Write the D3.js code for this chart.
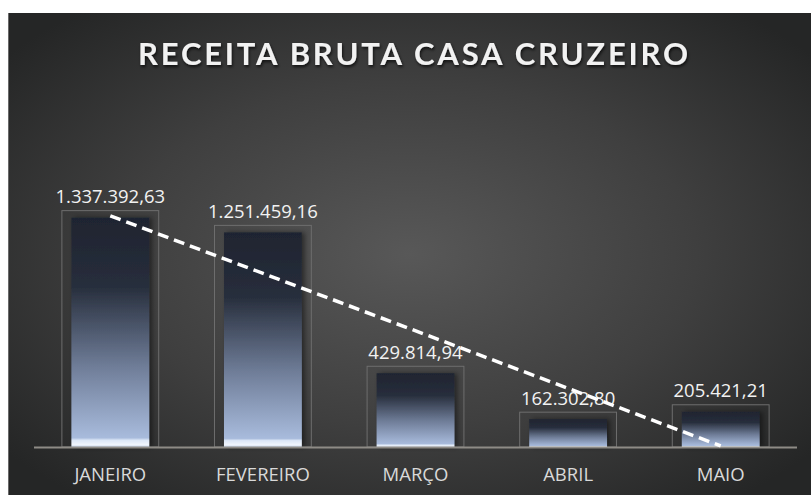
<!DOCTYPE html>
<html>
<head>
<meta charset="utf-8">
<script src="https://cdn.jsdelivr.net/npm/d3@7"></script>
<style>
  html, body { margin: 0; padding: 0; background: #ffffff; }
  svg { display: block; }
</style>
</head>
<body>
<svg id="chart" width="811" height="495"></svg>
<script>
const categories = ["JANEIRO", "FEVEREIRO", "MARÇO", "ABRIL", "MAIO"];
const values = [1337392.63, 1251459.16, 429814.94, 162302.80, 205421.21];
const valueLabels = ["1.337.392,63", "1.251.459,16", "429.814,94", "162.302,80", "205.421,21"];
const titleText = "RECEITA BRUTA CASA CRUZEIRO";

const svg = d3.select("#chart");
const W = 811, H = 495;
const defs = svg.append("defs");

// background radial gradient
const bg = defs.append("radialGradient").attr("id", "bg")
  .attr("cx", "50%").attr("cy", "50%").attr("r", "65%");
bg.append("stop").attr("offset", "0%").attr("stop-color", "#585858");
bg.append("stop").attr("offset", "55%").attr("stop-color", "#3f3f3f");
bg.append("stop").attr("offset", "100%").attr("stop-color", "#252626");

// bar gradient
const bg2 = defs.append("linearGradient").attr("id", "barGrad")
  .attr("x1", "0").attr("y1", "0").attr("x2", "0").attr("y2", "1");
[["0%", "#1f2430"], ["30%", "#272e3c"], ["65%", "#6f7d98"], ["96%", "#a8bbdc"],
 ["97%", "#dbe6f6"], ["99%", "#f0f5fc"], ["100%", "#c8d6ee"]].forEach(([o, c]) =>
  bg2.append("stop").attr("offset", o).attr("stop-color", c));

const sh = defs.append("filter").attr("id", "barShadow")
  .attr("x", "-20%").attr("y", "-20%").attr("width", "140%").attr("height", "140%");
sh.append("feDropShadow").attr("dx", 3).attr("dy", 0).attr("stdDeviation", 2.5)
  .attr("flood-color", "#000").attr("flood-opacity", 0.45);

const tsh = defs.append("filter").attr("id", "titleShadow")
  .attr("x", "-10%").attr("y", "-30%").attr("width", "120%").attr("height", "160%");
tsh.append("feDropShadow").attr("dx", 1).attr("dy", 2).attr("stdDeviation", 1.5)
  .attr("flood-color", "#000").attr("flood-opacity", 0.7);

// chart area background
svg.append("rect").attr("x", 8).attr("y", 13).attr("width", W - 8).attr("height", H - 13)
  .attr("fill", "url(#bg)");
svg.append("line").attr("x1", 8.5).attr("x2", 8.5).attr("y1", 13).attr("y2", H)
  .attr("stroke", "#6a6a6a").attr("stroke-width", 1);

// title
svg.append("text")
  .attr("x", 413).attr("y", 65)
  .attr("text-anchor", "middle")
  .attr("font-family", "Lato, 'Open Sans', sans-serif")
  .attr("font-weight", 700)
  .attr("font-size", 31)
  .attr("fill", "#f2f2f2")
  .attr("textLength", 550)
  .attr("lengthAdjust", "spacing")
  .attr("filter", "url(#titleShadow)")
  .text(titleText);

// scales
const x = d3.scaleBand().domain(categories).range([34, 797])
  .paddingInner(0.49).paddingOuter(0.245);
const y = d3.scaleLinear().domain([0, 1600000]).range([447, 172.6]);

const data = categories.map((c, i) => ({ c, v: values[i], label: valueLabels[i] }));

// frames
svg.append("g").selectAll("rect").data(data).join("rect")
  .attr("x", d => x(d.c) - 9.5)
  .attr("y", d => y(d.v) - 7)
  .attr("width", x.bandwidth() + 19)
  .attr("height", d => y(0) - y(d.v) + 7)
  .attr("fill", "none")
  .attr("stroke", "#6e6e6e")
  .attr("stroke-width", 1);

// bars
svg.append("g").selectAll("rect").data(data).join("rect")
  .attr("x", d => x(d.c))
  .attr("y", d => y(d.v))
  .attr("width", x.bandwidth())
  .attr("height", d => y(0) - y(d.v))
  .attr("fill", "url(#barGrad)")
  .attr("filter", "url(#barShadow)");

// baseline
svg.append("line").attr("x1", 34).attr("x2", 797)
  .attr("y1", y(0) + 0.5).attr("y2", y(0) + 0.5)
  .attr("stroke", "#8e8b86").attr("stroke-width", 2);

// value labels
svg.append("g").selectAll("text").data(data).join("text")
  .attr("x", d => x(d.c) + x.bandwidth() / 2)
  .attr("y", d => y(d.v) - 14.5)
  .attr("text-anchor", "middle")
  .attr("font-family", "'Open Sans', sans-serif")
  .attr("font-size", 18.5)
  .attr("fill", "#f2f2f2")
  .text(d => d.label);

// category labels
const xAxis = d3.axisBottom(x).tickSize(0).tickPadding(0);
const ax = svg.append("g").attr("transform", `translate(0, ${y(0)})`).call(xAxis);
ax.select(".domain").remove();
ax.selectAll("text")
  .attr("dy", 0).attr("y", 34)
  .attr("font-family", "'Open Sans', sans-serif")
  .attr("font-size", 18.5)
  .attr("fill", "#d9d9d9");

// linear trendline (least squares)
const n = values.length;
const xs = values.map((_, i) => i + 1);
const mx = d3.mean(xs), my = d3.mean(values);
const slope = d3.sum(xs, (xi, i) => (xi - mx) * (values[i] - my)) / d3.sum(xs, xi => (xi - mx) ** 2);
const icpt = my - slope * mx;
const trend = [1, n].map(k => ({ c: categories[k - 1], v: icpt + slope * k }));
svg.append("line")
  .attr("x1", x(trend[0].c) + x.bandwidth() / 2)
  .attr("y1", y(trend[0].v))
  .attr("x2", x(trend[1].c) + x.bandwidth() / 2)
  .attr("y2", y(trend[1].v))
  .attr("stroke", "#ffffff")
  .attr("stroke-width", 3.5)
  .attr("stroke-dasharray", "11,6");
</script>
</body>
</html>
